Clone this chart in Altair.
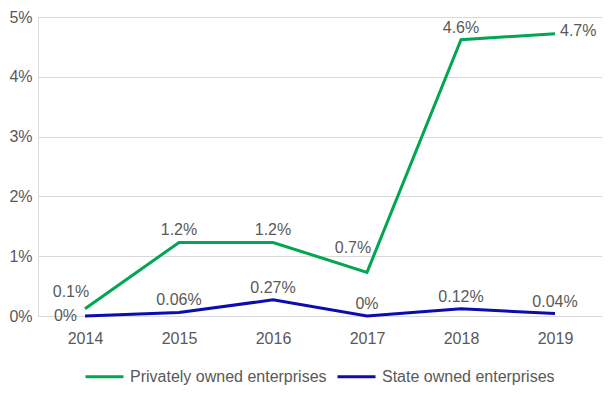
import altair as alt
import pandas as pd

years = ["2014", "2015", "2016", "2017", "2018", "2019"]
series_names = ["Privately owned enterprises", "State owned enterprises"]
private_vals = [0.12, 1.23, 1.23, 0.73, 4.62, 4.72]
private_labels = ["0.1%", "1.2%", "1.2%", "0.7%", "4.6%", "4.7%"]
state_vals = [0.0, 0.06, 0.27, 0.0, 0.12, 0.04]
state_labels = ["0%", "0.06%", "0.27%", "0%", "0.12%", "0.04%"]
y_ticks = [0, 1, 2, 3, 4, 5]
colors = ["#00A651", "#0C0CB0"]

rows = []
for i, y in enumerate(years):
    rows.append({"year": y, "series": series_names[0], "value": private_vals[i], "label": private_labels[i]})
for i, y in enumerate(years):
    rows.append({"year": y, "series": series_names[1], "value": state_vals[i], "label": state_labels[i]})
df = pd.DataFrame(rows)

FONT = "Liberation Sans"
GRAY = "#595959"

x_enc = alt.X("year:O", scale=alt.Scale(type="point", padding=0.5), title=None,
              axis=alt.Axis(labelAngle=0, ticks=False, domain=False, labelPadding=14,
                            labelFontSize=16, labelColor=GRAY, labelFont=FONT))
y_enc = alt.Y("value:Q", scale=alt.Scale(domain=[0, 5], nice=False), title=None,
              axis=alt.Axis(values=y_ticks, labelExpr="datum.value + '%'", ticks=False, domain=False,
                            labelPadding=6, labelFontSize=16, labelColor=GRAY, labelFont=FONT,
                            grid=True, gridColor="#D9D9D9", gridWidth=1))

base = alt.Chart(df)

lines = base.mark_line(strokeWidth=3).encode(
    x=x_enc, y=y_enc,
    color=alt.Color("series:N", scale=alt.Scale(domain=series_names, range=colors), title=None,
                    legend=alt.Legend(orient="none", direction="horizontal", legendX=46, legendY=339,
                                      symbolType="stroke", symbolSize=1444, symbolStrokeWidth=3,
                                      labelFontSize=16, labelFont=FONT, labelColor=GRAY,
                                      labelLimit=400, labelOffset=5, columnPadding=4)),
)

P = series_names[0]
S = series_names[1]
special = ("(datum.series == '%s' && (datum.year == '2014' || datum.year == '2017' || datum.year == '2019'))"
           " || (datum.series == '%s' && datum.year == '2014')") % (P, S)

txt_common = dict(fontSize=16, font=FONT, color=GRAY)
tenc = dict(x="year:O", y="value:Q", text="label:N")

above = base.transform_filter("!(" + special + ")").mark_text(
    dy=-7, baseline="alphabetic", align="center", **txt_common).encode(**tenc)
p14 = base.transform_filter("datum.series == '%s' && datum.year == '2014'" % P).mark_text(
    dy=-12, dx=-14, baseline="alphabetic", align="center", **txt_common).encode(**tenc)
p17 = base.transform_filter("datum.series == '%s' && datum.year == '2017'" % P).mark_text(
    dy=-19, dx=-14, baseline="alphabetic", align="center", **txt_common).encode(**tenc)
p19 = base.transform_filter("datum.series == '%s' && datum.year == '2019'" % P).mark_text(
    dy=2, dx=5, baseline="alphabetic", align="left", **txt_common).encode(**tenc)
s14 = base.transform_filter("datum.series == '%s' && datum.year == '2014'" % S).mark_text(
    dx=-8, baseline="middle", align="right", **txt_common).encode(**tenc)

chart = alt.layer(lines, above, p14, p17, p19, s14).properties(
    width=564, height=299,
    autosize=alt.AutoSizeParams(type="none"),
    padding={"left": 30, "top": 9, "right": 0, "bottom": 78},
).configure_view(stroke=None).configure(background="white")

chart.save("out.html", embed_options={"renderer": "svg", "actions": False})
